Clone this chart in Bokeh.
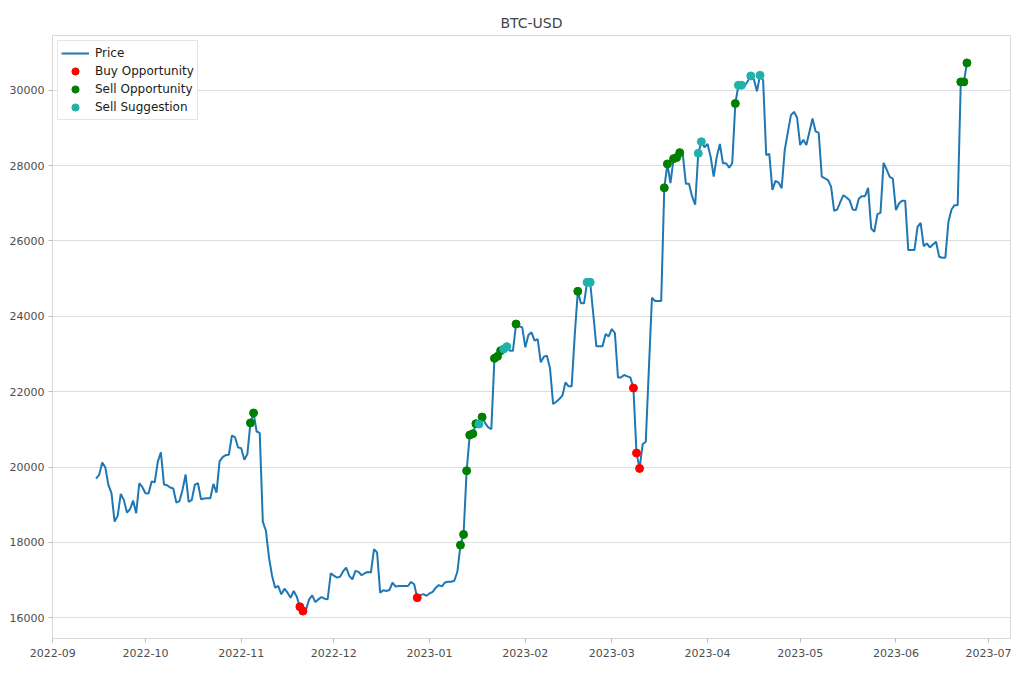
import pandas as pd
from bokeh.plotting import figure
from bokeh.models import (ColumnDataSource, Range1d, SingleIntervalTicker, MonthsTicker,
                          DatetimeTickFormatter, NumeralTickFormatter, Legend, LegendItem)
from bokeh.embed import file_html
from bokeh.resources import INLINE

title_text = "BTC-USD"
start_date = "2022-09-15"

price = [
    19694, 19792, 20119, 19995, 19527, 19306, 18555, 18705, 19288, 19129,
    18793, 18881, 19111, 18776, 19571, 19465, 19306, 19297, 19615, 19597,
    20146, 20393, 19536, 19518, 19456, 19430, 19058, 19094, 19394, 19801,
    19076, 19129, 19536, 19571, 19147, 19165, 19173, 19173, 19553, 19324,
    20150, 20264, 20317, 20326, 20837, 20793, 20520, 20502, 20194, 20344,
    21172, 21436, 20943, 20907, 18551, 18311, 17600, 17111, 16800, 16844,
    16622, 16773, 16667, 16533, 16711, 16560, 16293, 16178, 16222, 16489,
    16596, 16418, 16489, 16551, 16507, 16489, 17182, 17120, 17067, 17090,
    17230, 17333, 17111, 17022, 17244, 17218, 17129, 17182, 17218, 17200,
    17822, 17733, 16667, 16729, 16711, 16738, 16933, 16827, 16844, 16844,
    16844, 16844, 16951, 16889, 16533, 16601, 16628, 16584, 16646, 16690,
    16800, 16867, 16832, 16938, 16955, 16955, 16982, 17221, 17929, 18212,
    19902, 20849, 20885, 21150, 21141, 21327, 21168, 21053, 21009, 22885,
    22938, 23088, 23133, 23195, 23088, 23088, 23796, 23735, 23708, 23177,
    23504, 23575, 23354, 23398, 22779, 22929, 22956, 22619, 21672, 21734,
    21805, 21894, 22248, 22142, 22142, 23500, 24664, 24345, 24345, 24903,
    24903, 24062, 23204, 23204, 23204, 23531, 23469, 23664, 23558, 22380,
    22380, 22442, 22407, 22380, 22097, 20371, 19964, 20610, 20672, 22600,
    24494, 24406, 24406, 24406, 27410, 28044, 27533, 28185, 28212, 28344,
    28282, 27516, 27516, 27181, 26961, 28326, 28634, 28485, 28573, 28238,
    27709, 28238, 28573, 28062, 28062, 27947, 28062, 29648, 30132, 30132,
    30115, 30238, 30379, 30291, 29974, 30396, 30264, 28282, 28309, 27357,
    27595, 27551, 27401, 28414, 28881, 29339, 29427, 29269, 28546, 28685,
    28544, 28897, 29250, 28906, 28866, 27705, 27660, 27617, 27440, 26800,
    26835, 27039, 27215, 27154, 27083, 26835, 26818, 27127, 27189, 27189,
    27410, 26331, 26243, 26712, 26747, 28073, 27896, 27702, 27657, 26818,
    26994, 27065, 27065, 25757, 25757, 25757, 26376, 26482, 25863, 25934,
    25828, 25907, 25978, 25580, 25554, 25554, 26508, 26835, 26950, 26950,
    30221, 30221, 30725,
]

buy_idx = [66, 67, 104, 174, 175, 176]
sell_opp_idx = [50, 51, 118, 119, 120, 121, 122, 123, 125, 129, 130, 131, 136,
                156, 184, 185, 187, 188, 189, 207, 280, 281, 282]
sell_sugg_idx = [124, 132, 133, 159, 160, 195, 196, 208, 209, 212, 215]

dates = pd.date_range(start_date, periods=len(price), freq="D")
df = pd.DataFrame({"date": dates, "price": price})

span_x = dates[-1] - dates[0]
x_start = dates[0] - span_x * 0.05
x_end = dates[-1] + span_x * 0.05
pmin, pmax = min(price), max(price)
span_y = pmax - pmin

p = figure(width=1020, height=680, output_backend="svg", toolbar_location=None,
           x_axis_type="datetime",
           x_range=Range1d(x_start, x_end),
           y_range=Range1d(pmin - 0.05 * span_y, pmax + 0.05 * span_y),
           min_border_left=52, min_border_right=10, min_border_top=35, min_border_bottom=42)

p.title.text = title_text
p.title.align = "center"
p.title.text_font = "DejaVu Sans"
p.title.text_font_size = "14px"
p.title.text_font_style = "normal"
p.title.text_color = "#444444"

p.outline_line_color = "#d9d9d9"
p.outline_line_width = 1
p.background_fill_color = "white"
p.border_fill_color = "white"

p.xgrid.visible = False
p.ygrid.grid_line_color = "#dddddd"
p.ygrid.grid_line_width = 1

p.yaxis.ticker = SingleIntervalTicker(interval=2000, num_minor_ticks=0)
p.yaxis.formatter = NumeralTickFormatter(format="0")
p.xaxis.ticker = MonthsTicker(months=list(range(1, 13)))
fmt = "%Y-%m"
p.xaxis.formatter = DatetimeTickFormatter(days=fmt, months=fmt, years=fmt)

for ax in (p.xaxis, p.yaxis):
    ax.axis_line_color = "#d9d9d9"
    ax.major_tick_line_color = "#bbbbbb"
    ax.major_tick_out = 4
    ax.major_tick_in = 0
    ax.minor_tick_line_color = None
    ax.major_label_text_font = "DejaVu Sans"
    ax.major_label_text_font_size = "11px"
    ax.major_label_text_color = "#4d4d4d"
p.xaxis.major_label_standoff = 6
p.yaxis.major_label_standoff = 4

src = ColumnDataSource(df)
r_line = p.line("date", "price", source=src, line_color="#1f77b4", line_width=2)

def sub(idx):
    return ColumnDataSource(df.iloc[idx])

r_buy = p.scatter("date", "price", source=sub(buy_idx), size=8, marker="circle",
                  fill_color="red", line_color="red")
r_sell = p.scatter("date", "price", source=sub(sell_opp_idx), size=8, marker="circle",
                   fill_color="green", line_color="green")
r_sugg = p.scatter("date", "price", source=sub(sell_sugg_idx), size=8, marker="circle",
                   fill_color="lightseagreen", line_color="lightseagreen")

legend = Legend(items=[
    LegendItem(label="Price", renderers=[r_line]),
    LegendItem(label="Buy Opportunity", renderers=[r_buy]),
    LegendItem(label="Sell Opportunity", renderers=[r_sell]),
    LegendItem(label="Sell Suggestion", renderers=[r_sugg]),
], location="top_left")
legend.label_text_font = "DejaVu Sans"
legend.label_text_font_size = "12px"
legend.label_text_color = "#1a1a1a"
legend.border_line_color = "#cccccc"
legend.background_fill_alpha = 0.9
legend.margin = 5
legend.padding = 3
legend.spacing = 0
legend.glyph_width = 28
legend.glyph_height = 18
legend.label_height = 18
legend.label_standoff = 6
p.add_layout(legend)

open("out.html", "w").write(file_html(p, INLINE))
